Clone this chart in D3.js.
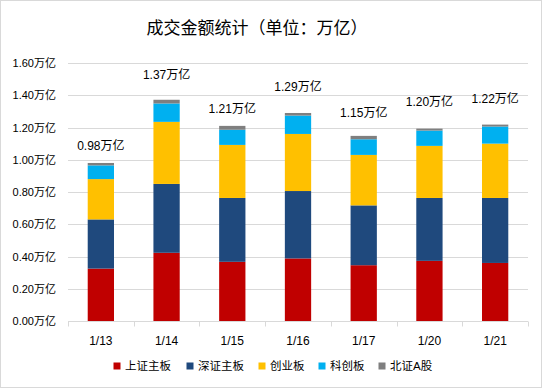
<!DOCTYPE html>
<html>
<head>
<meta charset="utf-8">
<script src="https://cdn.jsdelivr.net/npm/d3@7"></script>
<style>
  body { margin: 0; background: #fff; }
  text { font-family: "Liberation Sans", "Noto Sans CJK SC", sans-serif; fill: #000; }
</style>
</head>
<body>
<div id="chart-container"></div>
<script>
// categories and series (万亿)
const dates = ["1/13", "1/14", "1/15", "1/16", "1/17", "1/20", "1/21"];
const seriesNames = ["上证主板", "深证主板", "创业板", "科创板", "北证A股"];
const seriesColors = ["#C00000", "#1F497D", "#FFC000", "#00B0F0", "#7F7F7F"];
const shMain = [0.325, 0.423, 0.367, 0.388, 0.346, 0.373, 0.360];
const szMain = [0.305, 0.427, 0.396, 0.418, 0.371, 0.390, 0.403];
const chinext = [0.250, 0.385, 0.329, 0.354, 0.313, 0.323, 0.337];
const star = [0.085, 0.114, 0.094, 0.114, 0.097, 0.095, 0.106];
const bse = [0.015, 0.023, 0.024, 0.016, 0.021, 0.012, 0.012];
const totalLabels = ["0.98万亿", "1.37万亿", "1.21万亿", "1.29万亿", "1.15万亿", "1.20万亿", "1.22万亿"];
const yTicks = [0, 0.2, 0.4, 0.6, 0.8, 1.0, 1.2, 1.4, 1.6];
// how far each total label sits above its bar (px), labels were placed by hand
const labelLift = [17, 25, 17, 26, 23, 27, 26];

const width = 542, height = 388;
const margin = { top: 63, right: 14, bottom: 67, left: 68 };

const svg = d3.select("#chart-container")
  .append("svg")
  .attr("width", width)
  .attr("height", height);

svg.append("rect")
  .attr("x", 0.5).attr("y", 0.5)
  .attr("width", width - 1).attr("height", height - 1)
  .attr("fill", "#fff")
  .attr("stroke", "#d9d9d9");

svg.append("text")
  .attr("x", 257)
  .attr("y", 28)
  .attr("text-anchor", "middle")
  .attr("dominant-baseline", "central")
  .attr("font-size", "17px")
  .text("成交金额统计（单位：万亿）");

const x = d3.scaleBand()
  .domain(dates)
  .range([margin.left, width - margin.right])
  .paddingInner(0.6)
  .paddingOuter(0.3);

const y = d3.scaleLinear()
  .domain([0, 1.6])
  .range([height - margin.bottom, margin.top]);

// gridlines
svg.append("g")
  .selectAll("line")
  .data(yTicks.slice(1))
  .join("line")
  .attr("x1", margin.left)
  .attr("x2", width - margin.right)
  .attr("y1", d => Math.round(y(d)) + 0.5)
  .attr("y2", d => Math.round(y(d)) + 0.5)
  .attr("stroke", "#d9d9d9");

// y labels
svg.append("g")
  .selectAll("text")
  .data(yTicks)
  .join("text")
  .attr("x", margin.left - 12)
  .attr("y", d => y(d))
  .attr("text-anchor", "end")
  .attr("dominant-baseline", "central")
  .attr("font-size", "11px")
  .text(d => d.toFixed(2) + "万亿");

// stacked bars
const rows = dates.map((d, i) => ({
  date: d,
  s0: shMain[i], s1: szMain[i], s2: chinext[i], s3: star[i], s4: bse[i]
}));
const stack = d3.stack().keys(["s0", "s1", "s2", "s3", "s4"]);
const layers = stack(rows);

svg.append("g")
  .selectAll("g")
  .data(layers)
  .join("g")
  .attr("fill", (d, i) => seriesColors[i])
  .selectAll("rect")
  .data(d => d)
  .join("rect")
  .attr("x", d => x(d.data.date))
  .attr("width", x.bandwidth())
  .attr("y", d => y(d[1]))
  .attr("height", d => y(d[0]) - y(d[1]));

// x axis
const xAxisY = Math.round(y(0)) + 0.5;
svg.append("line")
  .attr("x1", margin.left).attr("x2", width - margin.right)
  .attr("y1", xAxisY).attr("y2", xAxisY)
  .attr("stroke", "#d9d9d9");

const step = x.step();
const bounds = dates.map(d => x(d) - step * x.paddingInner() / 2 ).concat([width - margin.right]);
bounds[0] = margin.left;
svg.append("g")
  .selectAll("line")
  .data(bounds)
  .join("line")
  .attr("x1", d => Math.round(d) + 0.5)
  .attr("x2", d => Math.round(d) + 0.5)
  .attr("y1", xAxisY)
  .attr("y2", xAxisY + 5)
  .attr("stroke", "#d9d9d9");

svg.append("g")
  .selectAll("text")
  .data(dates)
  .join("text")
  .attr("x", d => x(d) + x.bandwidth() / 2)
  .attr("y", xAxisY + 19)
  .attr("text-anchor", "middle")
  .attr("dominant-baseline", "central")
  .attr("font-size", "12px")
  .text(d => d);

// total labels
const tops = layers[layers.length - 1];
svg.append("g")
  .selectAll("text")
  .data(tops)
  .join("text")
  .attr("x", d => x(d.data.date) + x.bandwidth() / 2)
  .attr("y", (d, i) => y(d[1]) - labelLift[i])
  .attr("text-anchor", "middle")
  .attr("dominant-baseline", "central")
  .attr("font-size", "12px")
  .text((d, i) => totalLabels[i]);

// legend
const legendX = [117, 190, 262, 322, 382];
const legend = svg.append("g");
seriesNames.forEach((name, i) => {
  legend.append("rect")
    .attr("x", legendX[i] - 3.5)
    .attr("y", 366 - 3.5)
    .attr("width", 7)
    .attr("height", 7)
    .attr("fill", seriesColors[i]);
  legend.append("text")
    .attr("x", legendX[i] + 8)
    .attr("y", 366)
    .attr("dominant-baseline", "central")
    .attr("font-size", "11.5px")
    .text(name);
});
</script>
</body>
</html>
